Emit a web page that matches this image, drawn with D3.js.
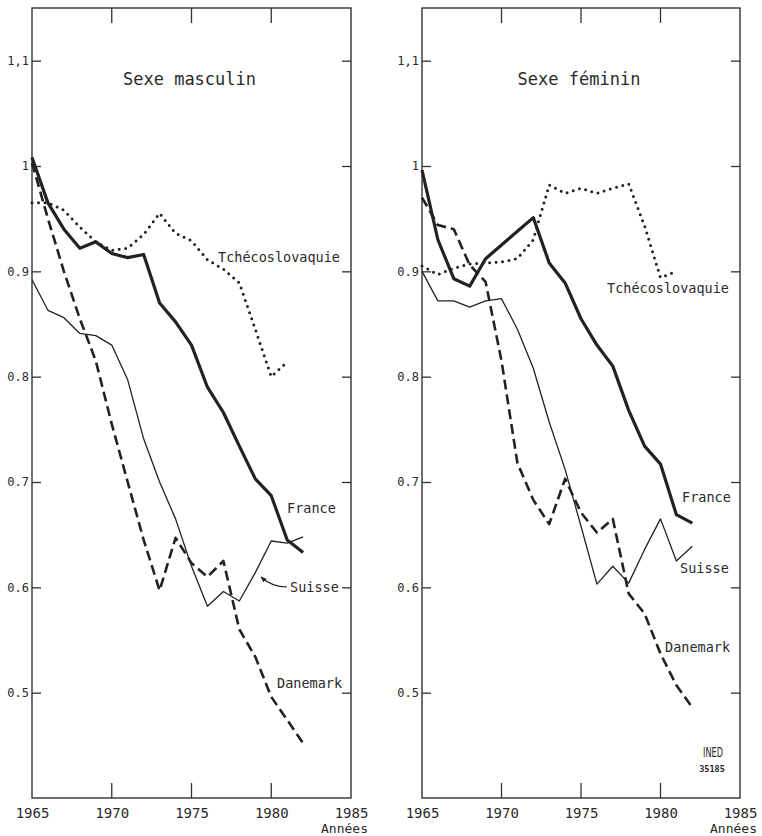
<!DOCTYPE html>
<html><head><meta charset="utf-8">
<script src="https://cdn.jsdelivr.net/npm/d3@7"></script>
<style>
body{margin:0;background:#fff;}
svg{display:block;}
text{font-family:"DejaVu Sans Mono","Liberation Mono",monospace;fill:#2a2a2a;}
</style></head><body>
<svg id="chart" width="762" height="836"></svg>
<script>
// ---- data ----
const years = [1965,1966,1967,1968,1969,1970,1971,1972,1973,1974,1975,1976,1977,1978,1979,1980,1981,1982];
const xTicks = [1965,1970,1975,1980,1985];
const yTicks = [0.5,0.6,0.7,0.8,0.9,1.0,1.1];
const yTickLabels = ["0.5","0.6","0.7","0.8","0.9","1","1,1"];

// Sexe masculin
const franceM   = [1.008,0.965,0.940,0.922,0.928,0.917,0.913,0.916,0.870,0.852,0.830,0.790,0.766,0.734,0.703,0.687,0.645,0.633];
const suisseM   = [0.892,0.863,0.856,0.841,0.839,0.830,0.797,0.741,0.700,0.665,0.620,0.582,0.596,0.587,0.614,0.644,0.642,0.648];
const danemarkM = [1.003,0.950,0.900,0.855,0.815,0.755,0.700,0.645,0.597,0.647,0.623,0.610,0.625,0.560,0.534,0.496,0.474,0.452];
const tchecoM   = [0.965,0.965,0.958,0.942,0.928,0.920,0.922,0.935,0.955,0.936,0.929,0.911,0.902,0.889,0.845,0.800,0.814];

// Sexe féminin
const franceF   = [0.996,0.930,0.893,0.886,0.912,0.925,0.938,0.951,0.908,0.889,0.855,0.830,0.810,0.768,0.734,0.717,0.669,0.661];
const suisseF   = [0.900,0.872,0.872,0.866,0.872,0.874,0.845,0.808,0.757,0.712,0.658,0.603,0.620,0.604,0.636,0.665,0.625,0.639];
const danemarkF = [0.970,0.944,0.940,0.906,0.890,0.815,0.718,0.683,0.660,0.703,0.671,0.652,0.665,0.594,0.575,0.537,0.507,0.486];
const tchecoF   = [0.905,0.897,0.903,0.907,0.908,0.909,0.912,0.930,0.982,0.974,0.979,0.974,0.979,0.983,0.943,0.894,0.900];

const panelTitles = ["Sexe masculin","Sexe féminin"];

// ---- drawing ----
const svg = d3.select("#chart");
const ink = "#222";
const y = d3.scaleLinear().domain([0.4,1.15]).range([798,8]);

const styles = {
  france:   {w:3.2, dash:null, cap:"butt"},
  suisse:   {w:1.3, dash:null, cap:"butt"},
  danemark: {w:2.6, dash:"10,5", cap:"butt"},
  tcheco:   {w:3.0, dash:"0,6.5", cap:"round"}
};

svg.append("defs").append("marker")
  .attr("id","arr").attr("viewBox","0 0 10 10").attr("refX",9).attr("refY",5)
  .attr("markerWidth",5).attr("markerHeight",5).attr("orient","auto")
  .append("path").attr("d","M0,1 L10,5 L0,9 Z").attr("fill",ink);

function panel(x0, x1, title, series, labels, leader){
  const x = d3.scaleLinear().domain([1965,1985]).range([x0,x1]);
  const g = svg.append("g");
  // frame
  g.append("rect").attr("x",x0).attr("y",y(1.15)).attr("width",x1-x0).attr("height",y(0.4)-y(1.15))
    .attr("fill","none").attr("stroke","#333").attr("stroke-width",1.4);
  // left axis: ticks inward + labels
  const yl = g.append("g").attr("transform",`translate(${x0},0)`)
    .call(d3.axisLeft(y).tickValues(yTicks).tickSizeInner(-9).tickSizeOuter(0).tickPadding(3)
      .tickFormat((d,i)=>yTickLabels[i]));
  yl.select(".domain").remove();
  yl.selectAll("line").attr("stroke","#333").attr("stroke-width",1.3);
  yl.selectAll("text").attr("font-size",12).attr("fill","#2a2a2a")
    .style("font-family",'"DejaVu Sans Mono",monospace');
  // right ticks inward
  const yr = g.append("g").attr("transform",`translate(${x1},0)`)
    .call(d3.axisRight(y).tickValues(yTicks).tickSize(-9).tickSizeOuter(0).tickFormat(""));
  yr.select(".domain").remove();
  yr.selectAll("line").attr("stroke","#333").attr("stroke-width",1.3);
  // bottom labels
  const xb = g.append("g").attr("transform",`translate(0,${y(0.4)})`)
    .call(d3.axisBottom(x).tickValues(xTicks).tickSize(0).tickPadding(0).tickFormat(d3.format("d")));
  xb.select(".domain").remove();
  xb.selectAll("text").attr("font-size",14).attr("dy",20).attr("fill","#2a2a2a")
    .style("font-family",'"DejaVu Sans Mono",monospace');
  // bottom & top ticks inward
  g.selectAll(".bt").data(xTicks.slice(1,4)).join("line")
    .attr("x1",d=>x(d)).attr("x2",d=>x(d)).attr("y1",y(0.4)).attr("y2",y(0.4)-15)
    .attr("stroke","#333").attr("stroke-width",1.3);
  g.selectAll(".tt").data(xTicks.slice(1,4)).join("line")
    .attr("x1",d=>x(d)).attr("x2",d=>x(d)).attr("y1",y(1.15)).attr("y2",y(1.15)+15)
    .attr("stroke","#333").attr("stroke-width",1.3);
  g.append("text").attr("x",x1+17).attr("y",833).attr("text-anchor","end")
    .attr("font-size",13).text("Années");
  // title
  g.append("text").attr("x",(x0+x1)/2 - 2).attr("y",85).attr("text-anchor","middle")
    .attr("font-size",17).text(title);
  // lines
  series.forEach(s=>{
    const st = styles[s.key];
    const line = d3.line().x((d,i)=>x(years[i])).y(d=>y(d));
    g.append("path").datum(s.values).attr("d",line)
      .attr("fill","none").attr("stroke",ink).attr("stroke-width",st.w)
      .attr("stroke-linejoin","round").attr("stroke-linecap",st.cap)
      .attr("stroke-dasharray",st.dash);
  });
  // labels
  labels.forEach(l=>{
    g.append("text").attr("x",l.x).attr("y",l.y).attr("font-size",l.fs||13.5).text(l.t);
  });
  if(leader){
    g.append("path").attr("d",leader).attr("fill","none").attr("stroke",ink)
      .attr("stroke-width",1.2).attr("marker-end","url(#arr)");
  }
  return g;
}

panel(32, 351, panelTitles[0], [
  {key:"tcheco", values:tchecoM},
  {key:"suisse", values:suisseM},
  {key:"danemark", values:danemarkM},
  {key:"france", values:franceM}
], [
  {t:"Tchécoslovaquie", x:218, y:262},
  {t:"France", x:287, y:513},
  {t:"Suisse", x:290, y:592},
  {t:"Danemark", x:277, y:688}
], "M287,587 Q272,587 261,577");

const g2 = panel(422, 740, panelTitles[1], [
  {key:"tcheco", values:tchecoF},
  {key:"suisse", values:suisseF},
  {key:"danemark", values:danemarkF},
  {key:"france", values:franceF}
], [
  {t:"Tchécoslovaquie", x:607, y:293},
  {t:"France", x:682, y:502},
  {t:"Suisse", x:680, y:573},
  {t:"Danemark", x:665, y:652}
], null);

// INED mark
g2.append("text").attr("x",713).attr("y",757).attr("text-anchor","middle")
  .attr("font-size",14).attr("textLength",20).attr("lengthAdjust","spacingAndGlyphs")
  .style("font-family","'Liberation Sans Narrow','DejaVu Sans Condensed',sans-serif").attr("font-weight","300").text("INED");
g2.append("text").attr("x",712).attr("y",772).attr("text-anchor","middle")
  .attr("font-size",8.5).attr("font-weight","bold").text("35185");
</script></body></html>
